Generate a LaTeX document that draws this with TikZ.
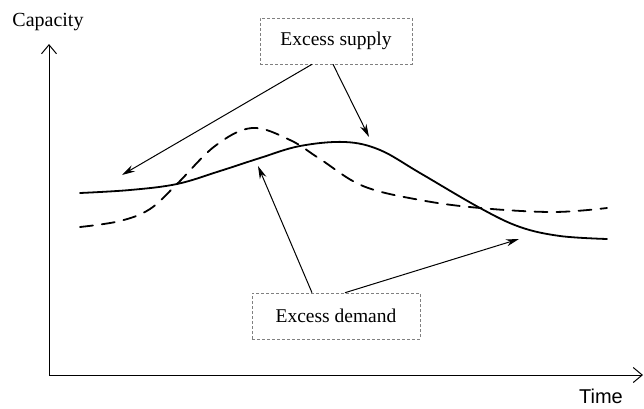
\documentclass[tikz,border=0pt]{standalone}
\usepackage{fontspec}
\setmainfont{Liberation Serif}
\newfontfamily\arialfont{Liberation Sans}
\usetikzlibrary{arrows.meta}
\tikzstyle{labelbox} = [draw=gray, densely dashed, line width=0.6pt, font=\fontsize{19.5}{22}\selectfont, inner sep=0pt]
\tikzstyle{axis} = [line width=1pt, -{Straight Barb[length=9pt,width=15pt,line width=1pt]}]
\tikzstyle{pointer} = [line width=1pt, -{Stealth[length=13pt,width=7pt]}]
\tikzstyle{curve} = [line width=1.8pt, line cap=round]

\begin{document}
\begin{tikzpicture}[x=1pt, y=-1pt] % pixel-like coordinates
\useasboundingbox (0,0) rectangle (644,408);

% Axes
\coordinate (origin) at (49,375);
\coordinate (ytop) at (49,44);
\coordinate (xend) at (643,375);
\draw [axis] (origin) -- (ytop);
\draw [axis] (origin) -- (xend);
\node (capacity) [anchor=base, inner sep=0pt] at (48,26) {\fontsize{20}{22}\selectfont Capacity};
\node (time) [anchor=base, inner sep=0pt] at (601,403) {\arialfont\fontsize{20}{22}\selectfont Time};

% Curves
\draw [curve] plot[smooth, tension=0.6] coordinates {(80,193) (130,190) (177,184) (220,171) (260,158) (300,146) (345,142) (380,150) (420,173) (480,208) (520,227) (560,236) (607,239)};
\draw [curve, dash pattern=on 13pt off 9pt] plot[smooth, tension=0.6] coordinates {(80,227) (120,221) (150,209) (177,184) (215,146) (252,128) (290,140) (320,159) (363,186) (420,200) (480,208) (553,212) (607,208)};

% Labels
\node (supply) [labelbox, minimum width=152pt, minimum height=46pt] at (336,41) {Excess supply};
\node (demand) [labelbox, minimum width=168pt, minimum height=46pt] at (336,316) {Excess demand};

% Arrows
\coordinate (supplyleft) at (122,175);
\coordinate (supplyright) at (369,137);
\coordinate (demandleft) at (258,166);
\coordinate (demandright) at (519,239);
\draw [pointer] ([xshift=-24pt]supply.south) -- (supplyleft);
\draw [pointer] ([xshift=-3pt]supply.south) -- (supplyright);
\draw [pointer] ([xshift=-24pt]demand.north) -- (demandleft);
\draw [pointer] ([xshift=9pt]demand.north) -- (demandright);

\end{tikzpicture}
\end{document}
